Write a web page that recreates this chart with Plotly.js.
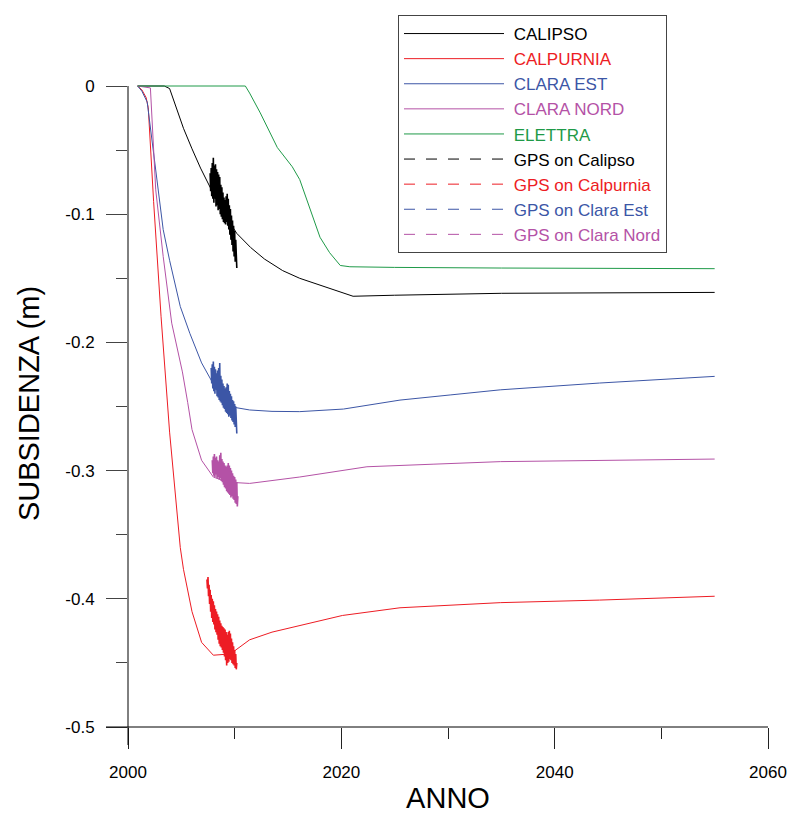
<!DOCTYPE html>
<html>
<head>
<meta charset="utf-8">
<script src="https://cdn.plot.ly/plotly-3.0.1.min.js"></script>
<style>
html,body{margin:0;padding:0;background:#fff;}
#chart{width:792px;height:814px;}
</style>
</head>
<body>
<div id="chart"></div>
<script>
// ---------- DATA ----------
var seriesNames = ["CALIPSO", "CALPURNIA", "CLARA EST", "CLARA NORD", "ELETTRA"];
var gpsNames = ["GPS on Calipso", "GPS on Calpurnia", "GPS on Clara Est", "GPS on Clara Nord"];

var calipsoX = [2000.9, 2003.4, 2003.9, 2004.2, 2004.6, 2005.2, 2006.0, 2006.8, 2007.7, 2008.8, 2010.2, 2011.5, 2012.8, 2014.5, 2016.1, 2018.9, 2021.1, 2025, 2035, 2055];
var calipsoY = [0, 0, -0.002, -0.009, -0.019, -0.033, -0.049, -0.064, -0.079, -0.097, -0.115, -0.126, -0.135, -0.144, -0.150, -0.158, -0.164, -0.1632, -0.1617, -0.161];

var calpurniaX = [2000.9, 2001.3, 2001.7, 2001.9, 2002.4, 2003.1, 2003.9, 2004.9, 2005.2, 2006.0, 2006.9, 2008.0, 2009.6, 2011.4, 2013.5, 2016.1, 2018.5, 2020.1, 2025.5, 2034.9, 2044.2, 2055];
var calpurniaY = [0, -0.003, -0.009, -0.017, -0.090, -0.180, -0.270, -0.360, -0.377, -0.410, -0.434, -0.444, -0.443, -0.432, -0.426, -0.421, -0.416, -0.413, -0.407, -0.403, -0.401, -0.398];

var claraEstX = [2000.9, 2001.3, 2001.8, 2002.3, 2002.8, 2003.3, 2003.9, 2004.9, 2005.8, 2006.9, 2007.9, 2009.0, 2010.2, 2011.4, 2013.5, 2016.1, 2020.2, 2025.5, 2030.2, 2034.9, 2044.2, 2055];
var claraEstY = [0, -0.004, -0.0125, -0.045, -0.081, -0.112, -0.136, -0.172, -0.193, -0.216, -0.231, -0.244, -0.251, -0.2527, -0.2538, -0.254, -0.252, -0.245, -0.241, -0.237, -0.2317, -0.2265];

var claraNordX = [2000.9, 2001.5, 2002.1, 2002.6, 2003.3, 2004.1, 2005.1, 2005.6, 2006.0, 2006.9, 2008.0, 2009.3, 2011.4, 2016.1, 2022.4, 2028.6, 2034.9, 2055];
var claraNordY = [0, -0.0005, -0.0015, -0.081, -0.133, -0.185, -0.223, -0.247, -0.268, -0.292, -0.305, -0.309, -0.310, -0.305, -0.297, -0.295, -0.293, -0.291];

var elettraX = [2000.9, 2011.0, 2011.4, 2012.4, 2014.0, 2015.4, 2016.1, 2017.1, 2018.0, 2018.9, 2019.9, 2020.8, 2025, 2035, 2055];
var elettraY = [0, 0, -0.0055, -0.021, -0.048, -0.063, -0.073, -0.097, -0.118, -0.130, -0.140, -0.141, -0.1415, -0.142, -0.1425];

var gpsCalipsoX = [2007.70, 2007.75, 2007.80, 2007.85, 2007.90, 2007.95, 2008.00, 2008.05, 2008.10, 2008.15, 2008.20, 2008.25, 2008.30, 2008.35, 2008.40, 2008.45, 2008.50, 2008.55, 2008.60, 2008.65, 2008.70, 2008.75, 2008.80, 2008.85, 2008.90, 2008.95, 2009.00, 2009.05, 2009.10, 2009.15, 2009.20, 2009.25, 2009.30, 2009.35, 2009.40, 2009.45, 2009.50, 2009.55, 2009.60, 2009.65, 2009.70, 2009.75, 2009.80, 2009.85, 2009.90, 2009.95, 2010.00, 2010.05, 2010.10, 2010.15, 2010.20];
var gpsCalipsoY = [-0.068, -0.082, -0.064, -0.086, -0.060, -0.088, -0.056, -0.091, -0.062, -0.088, -0.061, -0.094, -0.065, -0.093, -0.067, -0.097, -0.069, -0.096, -0.071, -0.100, -0.077, -0.102, -0.079, -0.104, -0.083, -0.106, -0.087, -0.107, -0.089, -0.108, -0.086, -0.106, -0.084, -0.109, -0.088, -0.112, -0.093, -0.116, -0.096, -0.120, -0.101, -0.124, -0.105, -0.129, -0.109, -0.133, -0.113, -0.137, -0.120, -0.141, -0.142];

var gpsCalpurniaX = [2007.40, 2007.45, 2007.50, 2007.55, 2007.60, 2007.65, 2007.70, 2007.75, 2007.80, 2007.85, 2007.90, 2007.95, 2008.00, 2008.05, 2008.10, 2008.15, 2008.20, 2008.25, 2008.30, 2008.35, 2008.40, 2008.45, 2008.50, 2008.55, 2008.60, 2008.65, 2008.70, 2008.75, 2008.80, 2008.85, 2008.90, 2008.95, 2009.00, 2009.05, 2009.10, 2009.15, 2009.20, 2009.25, 2009.30, 2009.35, 2009.40, 2009.45, 2009.50, 2009.55, 2009.60, 2009.65, 2009.70, 2009.75, 2009.80, 2009.85, 2009.90, 2009.95, 2010.00, 2010.05, 2010.10, 2010.15, 2010.20];
var gpsCalpurniaY = [-0.385, -0.392, -0.383, -0.398, -0.389, -0.404, -0.393, -0.410, -0.397, -0.415, -0.400, -0.418, -0.402, -0.420, -0.405, -0.424, -0.408, -0.426, -0.410, -0.428, -0.412, -0.432, -0.414, -0.435, -0.417, -0.437, -0.419, -0.438, -0.421, -0.440, -0.422, -0.442, -0.423, -0.445, -0.424, -0.448, -0.426, -0.452, -0.428, -0.450, -0.426, -0.449, -0.425, -0.447, -0.427, -0.448, -0.431, -0.450, -0.434, -0.451, -0.437, -0.452, -0.440, -0.454, -0.443, -0.455, -0.450];

var gpsClaraEstX = [2007.80, 2007.85, 2007.90, 2007.95, 2008.00, 2008.05, 2008.10, 2008.15, 2008.20, 2008.25, 2008.30, 2008.35, 2008.40, 2008.45, 2008.50, 2008.55, 2008.60, 2008.65, 2008.70, 2008.75, 2008.80, 2008.85, 2008.90, 2008.95, 2009.00, 2009.05, 2009.10, 2009.15, 2009.20, 2009.25, 2009.30, 2009.35, 2009.40, 2009.45, 2009.50, 2009.55, 2009.60, 2009.65, 2009.70, 2009.75, 2009.80, 2009.85, 2009.90, 2009.95, 2010.00, 2010.05, 2010.10, 2010.15, 2010.20];
var gpsClaraEstY = [-0.220, -0.232, -0.217, -0.236, -0.215, -0.238, -0.219, -0.240, -0.221, -0.237, -0.224, -0.242, -0.222, -0.243, -0.220, -0.245, -0.216, -0.246, -0.226, -0.247, -0.229, -0.249, -0.232, -0.251, -0.234, -0.252, -0.236, -0.254, -0.235, -0.255, -0.232, -0.256, -0.233, -0.258, -0.238, -0.257, -0.240, -0.259, -0.242, -0.261, -0.245, -0.262, -0.246, -0.264, -0.248, -0.266, -0.250, -0.269, -0.271];

var gpsClaraNordX = [2007.90, 2007.95, 2008.00, 2008.05, 2008.10, 2008.15, 2008.20, 2008.25, 2008.30, 2008.35, 2008.40, 2008.45, 2008.50, 2008.55, 2008.60, 2008.65, 2008.70, 2008.75, 2008.80, 2008.85, 2008.90, 2008.95, 2009.00, 2009.05, 2009.10, 2009.15, 2009.20, 2009.25, 2009.30, 2009.35, 2009.40, 2009.45, 2009.50, 2009.55, 2009.60, 2009.65, 2009.70, 2009.75, 2009.80, 2009.85, 2009.90, 2009.95, 2010.00, 2010.05, 2010.10, 2010.15, 2010.20, 2010.25, 2010.30];
var gpsClaraNordY = [-0.292, -0.302, -0.289, -0.304, -0.287, -0.305, -0.290, -0.303, -0.289, -0.306, -0.292, -0.305, -0.293, -0.307, -0.288, -0.306, -0.286, -0.308, -0.291, -0.309, -0.293, -0.311, -0.294, -0.313, -0.296, -0.314, -0.297, -0.316, -0.296, -0.317, -0.294, -0.318, -0.296, -0.319, -0.298, -0.321, -0.300, -0.320, -0.302, -0.322, -0.304, -0.323, -0.305, -0.325, -0.307, -0.326, -0.309, -0.328, -0.320];

var xTickVals = [2000, 2020, 2040, 2060];
var xTickText = ["2000", "2020", "2040", "2060"];
var xMinorVals = [2010, 2030, 2050];
var yTickVals = [0, -0.1, -0.2, -0.3, -0.4, -0.5];
var yTickText = ["0", "-0.1", "-0.2", "-0.3", "-0.4", "-0.5"];
var yMinorVals = [-0.05, -0.15, -0.25, -0.35, -0.45];

// ---------- STYLE ----------
var colors = ["#000000", "#ed1c24", "#3c56a6", "#b452a6", "#1f9a48"];
var FONT = "Liberation Sans, Arial, Helvetica, sans-serif";

function lbl(name, color) {
  return '&nbsp;<span style="color:' + color + '">' + name + '</span>';
}

var mainX = [calipsoX, calpurniaX, claraEstX, claraNordX, elettraX];
var mainY = [calipsoY, calpurniaY, claraEstY, claraNordY, elettraY];
var gpsX = [gpsCalipsoX, gpsCalpurniaX, gpsClaraEstX, gpsClaraNordX];
var gpsY = [gpsCalipsoY, gpsCalpurniaY, gpsClaraEstY, gpsClaraNordY];
var gpsColors = [colors[0], colors[1], colors[2], colors[3]];

var traces = [];
for (var i = 0; i < mainX.length; i++) {
  traces.push({
    type: "scatter", mode: "lines", x: mainX[i], y: mainY[i],
    name: lbl(seriesNames[i], colors[i]),
    line: {color: colors[i], width: 1},
    hoverinfo: "skip"
  });
}
// legend entries for GPS (dashed, as in the reference legend)
for (var j = 0; j < gpsX.length; j++) {
  traces.push({
    type: "scatter", mode: "lines", x: [null], y: [null],
    name: lbl(gpsNames[j], gpsColors[j]),
    legendgroup: "g" + j,
    line: {color: gpsColors[j], width: 1, dash: "11px,11px"},
    hoverinfo: "skip"
  });
}
// GPS measurements
for (var k = 0; k < gpsX.length; k++) {
  traces.push({
    type: "scatter", mode: "lines", x: gpsX[k], y: gpsY[k],
    name: gpsNames[k], legendgroup: "g" + k, showlegend: false,
    line: {color: gpsColors[k], width: 1.6},
    hoverinfo: "skip"
  });
}

var M = {l: 128, r: 24, t: 80, b: 87};
var plotH = 814 - M.t - M.b;   // 647
var plotW = 792 - M.l - M.r;   // 640
var yMin = -0.5;
var yMax = -0.5 + plotH / 1282;
var yZeroPaper = (0 - yMin) / (yMax - yMin);

var layout = {
  width: 792, height: 814,
  margin: M,
  paper_bgcolor: "#ffffff", plot_bgcolor: "#ffffff",
  font: {family: FONT, size: 16, color: "#000"},
  showlegend: true,
  legend: {
    x: (398 - M.l) / plotW, y: (727 - 15) / plotH,
    xanchor: "left", yanchor: "top",
    bgcolor: "#ffffff", bordercolor: "#444", borderwidth: 1,
    font: {family: FONT, size: 17, color: "#000"},
    itemwidth: 100, traceorder: "normal",
    tracegroupgap: 0
  },
  xaxis: {
    range: [2000, 2060], showline: false, showgrid: false, zeroline: false,
    tickmode: "array", tickvals: xTickVals, ticktext: xTickText,
    ticks: "outside", ticklen: 21, tickwidth: 1, tickcolor: "#222",
    ticklabelstandoff: 9,
    tickfont: {family: FONT, size: 17, color: "#000"},
    minor: {tickmode: "array", tickvals: xMinorVals, ticks: "outside", ticklen: 11, tickwidth: 1, tickcolor: "#222", showgrid: false},
    title: {text: "ANNO", font: {family: FONT, size: 29, color: "#000"}, standoff: 16}
  },
  yaxis: {
    range: [yMin, yMax], showline: false, showgrid: false, zeroline: false,
    tickmode: "array", tickvals: yTickVals, ticktext: yTickText,
    ticks: "outside", ticklen: 21, tickwidth: 1, tickcolor: "#444",
    ticklabelstandoff: 8,
    tickfont: {family: FONT, size: 17, color: "#000"},
    minor: {tickmode: "array", tickvals: yMinorVals, ticks: "outside", ticklen: 11, tickwidth: 1, tickcolor: "#444", showgrid: false},
    title: {text: "SUBSIDENZA (m)", font: {family: FONT, size: 29, color: "#000"}, standoff: 17}
  },
  shapes: [
    {type: "line", xref: "paper", yref: "paper", x0: 0, x1: 0, y0: -18 / plotH, y1: yZeroPaper, line: {color: "#000", width: 1}},
    {type: "line", xref: "paper", yref: "paper", x0: -22 / plotW, x1: 1, y0: 0, y1: 0, line: {color: "#000", width: 1}}
  ]
};

Plotly.newPlot("chart", traces, layout, {displayModeBar: false, staticPlot: true});
</script>
</body>
</html>
